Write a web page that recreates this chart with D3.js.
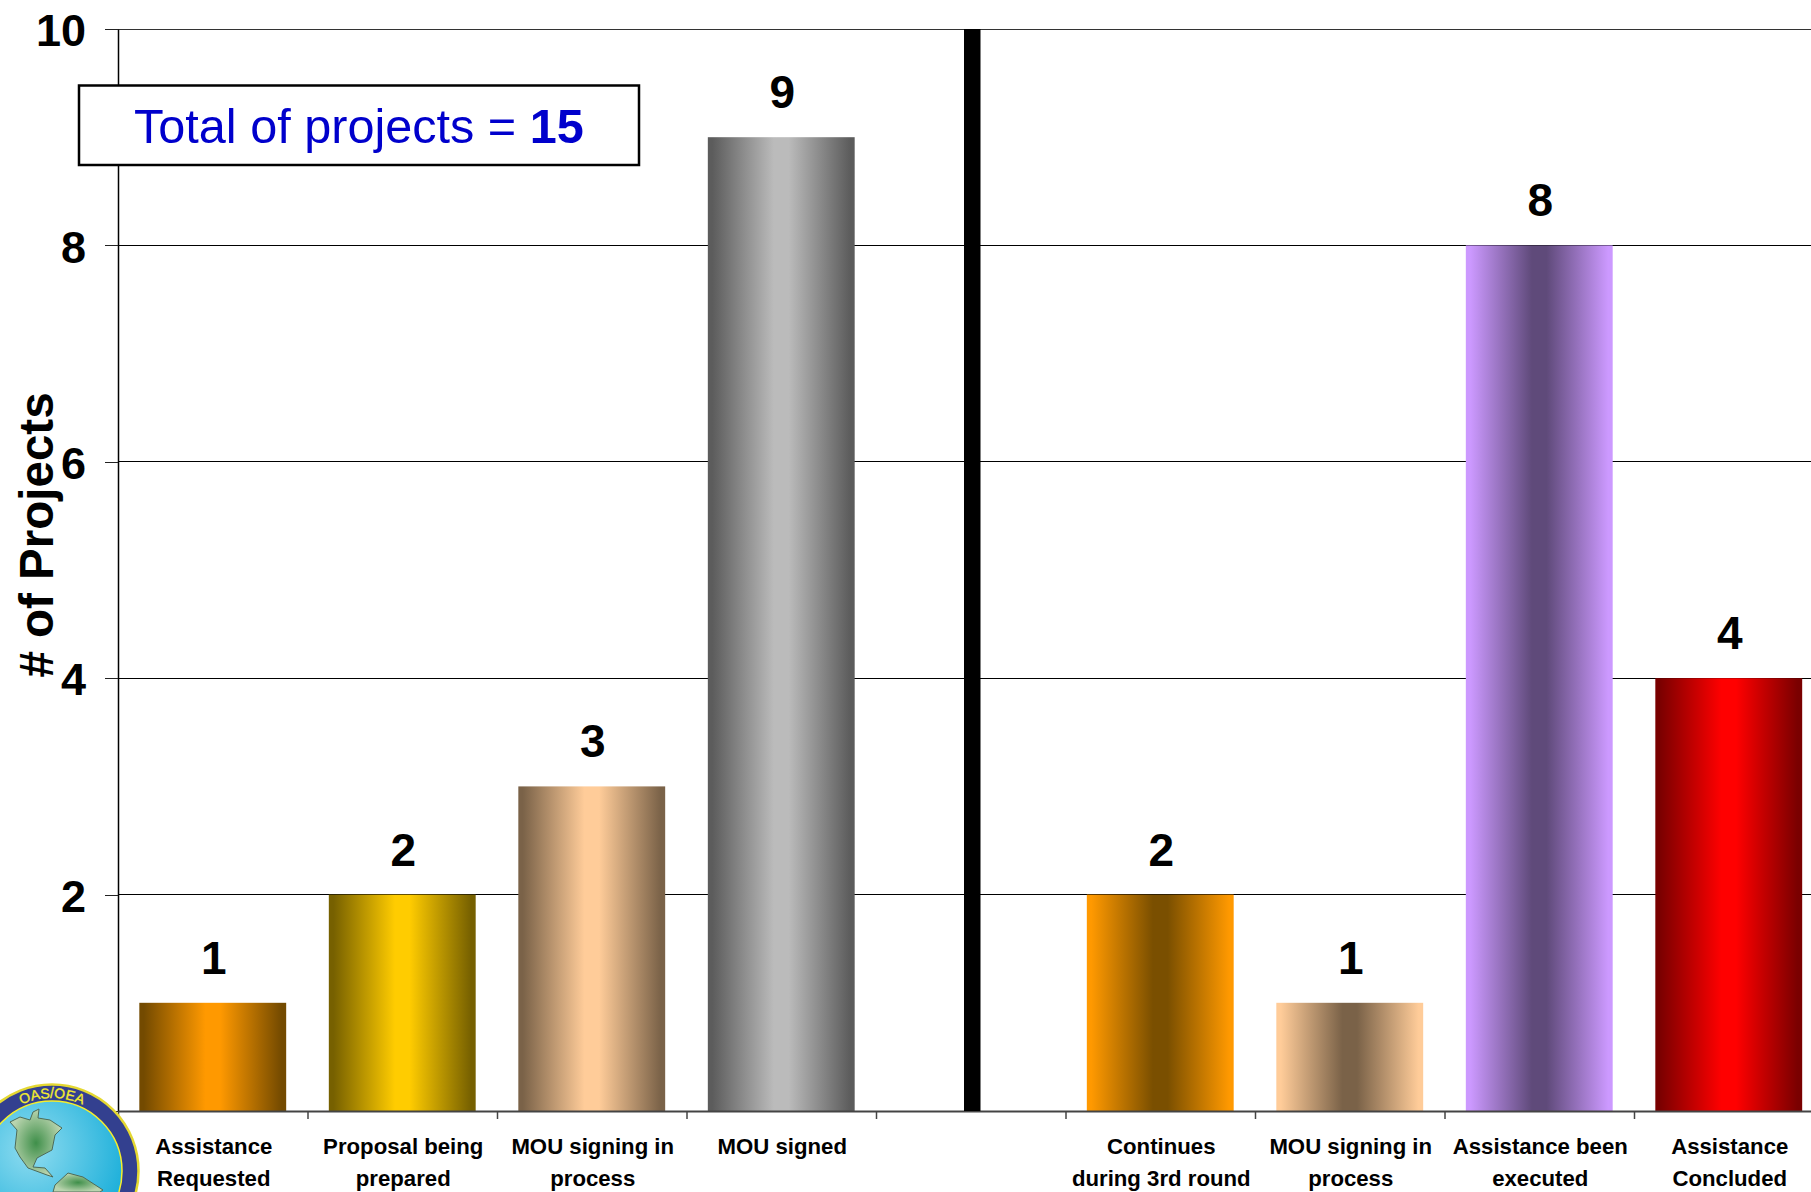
<!DOCTYPE html>
<html lang="en">
<head>
  <meta charset="UTF-8" />
  <title># of Projects</title>
  <script src="https://d3js.org/d3.v7.min.js"></script>
  <style>
    html, body { margin: 0; padding: 0; background: #fff; overflow: hidden; }
    svg { display: block; font-family: "Liberation Sans", Arial, sans-serif; }
    .tick-label { font-size: 45px; font-weight: bold; fill: #000; }
    .cat-label { font-size: 22.2px; font-weight: bold; fill: #000; }
    .val-label { font-size: 46px; font-weight: bold; fill: #000; }
  </style>
</head>
<body>
  <svg width="1811" height="1192" viewBox="0 0 1811 1192"></svg>
  <script>
    // slot 4 is the empty one behind the black divider
    const categories = [
      ["Assistance", "Requested"],
      ["Proposal being", "prepared"],
      ["MOU signing in", "process"],
      ["MOU signed"],
      [],
      ["Continues", "during 3rd round"],
      ["MOU signing in", "process"],
      ["Assistance been", "executed"],
      ["Assistance", "Concluded"]
    ];
    const values = [1, 2, 3, 9, null, 2, 1, 8, 4];
    const edgeColors = ["#734a00", "#766000", "#7a6248", "#5c5c5c", null, "#ff9900", "#ffcc99", "#cc99ff", "#7a0000"];
    const midColors = ["#ff9900", "#ffcc00", "#ffcc99", "#bbbbbb", null, "#7a4f00", "#7a6248", "#5f4a7a", "#ff0000"];
    const yTicks = [0, 2, 4, 6, 8, 10];

    const left = 118, top_ = 29, bottom = 1111, step = 189.5;
    const svg = d3.select("svg");
    const defs = svg.append("defs");

    const x = d3.scaleBand().domain(d3.range(categories.length))
      .range([left, left + step * categories.length])
      .paddingInner(0.225).paddingOuter(0.1125);
    const xEdge = d3.scaleLinear().domain([0, categories.length]).range(x.range());
    const y = d3.scaleLinear().domain([0, 10]).range([bottom, top_]);

    // gridlines + y axis
    svg.append("g").selectAll("line").data(yTicks.filter(d => d > 0)).enter().append("line")
      .attr("x1", left).attr("x2", 1811)
      .attr("y1", d => y(d)).attr("y2", d => y(d))
      .attr("shape-rendering", "crispEdges")
      .attr("stroke", d => d == 10 ? "#333" : "#000").attr("stroke-width", 1);

    const yAxis = svg.append("g").attr("transform", `translate(${left},0)`)
      .call(d3.axisLeft(y).tickValues(yTicks).tickSize(13).tickPadding(19).tickSizeOuter(0));
    yAxis.select(".domain").attr("stroke", "#000").attr("stroke-width", 1.5);
    yAxis.selectAll(".tick line").attr("stroke", "#222").attr("shape-rendering", "crispEdges");
    yAxis.selectAll(".tick text").attr("class", "tick-label").attr("font-family", null).attr("font-size", null)
      .attr("dy", "0.37em")
      .text(d => d == 0 ? "" : d);

    svg.append("text")
      .attr("transform", "translate(53,535) rotate(-90)")
      .attr("text-anchor", "middle")
      .attr("font-size", 47.5).attr("font-weight", "bold")
      .text("# of Projects");

    // bars
    const barIdx = d3.range(values.length).filter(i => values[i] !== null);
    barIdx.forEach(i => {
      const g = defs.append("linearGradient").attr("id", "bar" + i);
      [[0.03, edgeColors[i]], [0.45, midColors[i]], [0.55, midColors[i]], [0.97, edgeColors[i]]].forEach(s => {
        g.append("stop").attr("offset", s[0]).attr("stop-color", s[1]);
      });
    });
    svg.append("g").selectAll("rect").data(barIdx).enter().append("rect")
      .attr("x", i => x(i)).attr("width", x.bandwidth())
      .attr("y", i => y(values[i])).attr("height", i => bottom - y(values[i]))
      .attr("fill", i => `url(#bar${i})`);

    svg.append("g").selectAll("text").data(barIdx).enter().append("text")
      .attr("class", "val-label").attr("text-anchor", "middle")
      .attr("x", i => x(i) + x.bandwidth() / 2 + 1)
      .attr("y", i => y(values[i]) - 29)
      .text(i => values[i]);

    // x axis, ticks sit on the band edges
    const xAxis = svg.append("g").attr("transform", `translate(0,${bottom})`)
      .call(d3.axisBottom(xEdge).ticks(categories.length).tickSize(8).tickFormat("").tickSizeOuter(0));
    xAxis.select(".domain").attr("stroke", "#444").attr("stroke-width", 2);
    xAxis.selectAll(".tick line").attr("stroke", "#444").attr("stroke-width", 1.5);

    const catText = svg.append("g").selectAll("text").data(categories).enter().append("text")
      .attr("class", "cat-label").attr("text-anchor", "middle");
    catText.selectAll("tspan").data((d, i) => d.map((t, k) => ({ t, k, i }))).enter().append("tspan")
      .attr("x", d => x(d.i) + x.bandwidth() / 2 + 1)
      .attr("y", d => 1154 + d.k * 32)
      .text(d => d.t);

    // divider
    svg.append("rect").attr("x", 964).attr("y", top_).attr("width", 16.5).attr("height", bottom - top_).attr("fill", "#000");

    // total box
    svg.append("rect").attr("x", 79).attr("y", 85.5).attr("width", 560).attr("height", 79.5)
      .attr("fill", "#fff").attr("stroke", "#000").attr("stroke-width", 2.5);
    const total = svg.append("text").attr("x", 134).attr("y", 143).attr("font-size", 48.6).attr("fill", "#0000cc");
    total.append("tspan").text("Total of projects = ");
    total.append("tspan").attr("font-weight", "bold").text("15");

    // logo in the corner
    const logoC = [52, 1171];
    const northAm = [[10,1122],[20,1117],[30,1120],[33,1112],[39,1109],[38,1118],[50,1120],[62,1128],[55,1135],[52,1150],[37,1158],[33,1167],[45,1168],[53,1177],[47,1175],[28,1168],[20,1157],[15,1148],[17,1130]];
    const southAm = [[55,1185],[68,1173],[83,1177],[103,1190],[100,1192],[53,1192]];

    const sea = defs.append("radialGradient").attr("id", "sea").attr("cx", "0.35").attr("cy", "0.35").attr("r", "0.75");
    sea.append("stop").attr("offset", 0).attr("stop-color", "#8fdcf0");
    sea.append("stop").attr("offset", 1).attr("stop-color", "#14acd8");
    const land = defs.append("radialGradient").attr("id", "land");
    land.append("stop").attr("offset", 0).attr("stop-color", "#3f8f4a");
    land.append("stop").attr("offset", 1).attr("stop-color", "#b9d4ae");
    defs.append("path").attr("id", "logoArc")
      .attr("d", `M${logoC[0] - 73},${logoC[1]} A73,73 0 0 1 ${logoC[0] + 73},${logoC[1]}`);

    const logo = svg.append("g");
    logo.append("circle").attr("cx", logoC[0]).attr("cy", logoC[1]).attr("r", 86.5)
      .attr("fill", "#33408f").attr("stroke", "#e4d832").attr("stroke-width", 2.5);
    logo.append("circle").attr("cx", logoC[0]).attr("cy", logoC[1]).attr("r", 70)
      .attr("fill", "url(#sea)").attr("stroke", "#f6ee2c").attr("stroke-width", 1.5);
    const shape = d3.line().curve(d3.curveLinearClosed);
    [northAm, southAm].forEach(p => {
      logo.append("path").attr("d", shape(p)).attr("fill", "url(#land)")
        .attr("stroke", "#4d6b58").attr("stroke-width", 1);
    });
    logo.append("text").attr("font-size", 14).attr("font-weight", "normal")
      .attr("fill", "#f6ee2c").attr("stroke", "#f6ee2c").attr("stroke-width", 0.3)
      .append("textPath").attr("href", "#logoArc").attr("startOffset", "50%").attr("text-anchor", "middle")
      .text("OAS/OEA");
  </script>
</body>
</html>
